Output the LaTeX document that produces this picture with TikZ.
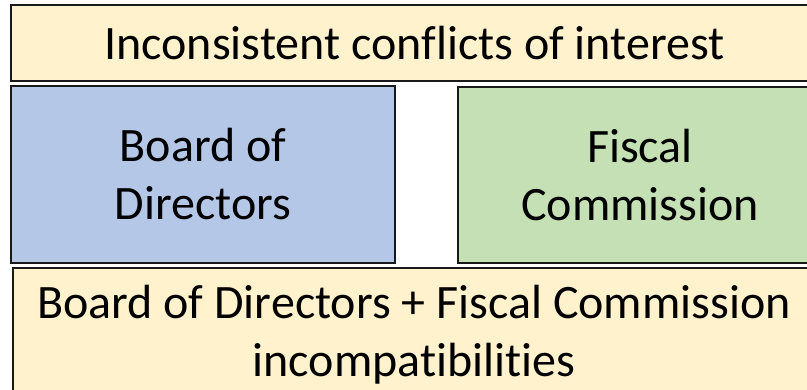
\documentclass[tikz,border=0pt]{standalone}
\usepackage{fontspec}
\setmainfont[Ligatures=NoCommon]{Carlito}
\usetikzlibrary{positioning}

\begin{document}
\begin{tikzpicture}[x=1pt,y=-1pt,line join=miter]
  % Styles
  \tikzset{
    panel/.style={draw=black!90, line width=2pt, inner sep=0pt, align=center,
      font=\fontsize{48}{58}\selectfont},
  }

  % Colors
  \definecolor{creamfill}{HTML}{FFF2CC}
  \definecolor{bluefill}{HTML}{B4C7E7}
  \definecolor{greenfill}{HTML}{C5E0B4}

  % Page frame
  \useasboundingbox (0,0) rectangle (807,389);
  \clip (0,0) rectangle (807,389);

  % Top band
  \node[panel, fill=creamfill, minimum width=807pt, minimum height=76pt]
    (conflicts) at (414.5,43) {Inconsistent conflicts of interest};

  % Two bodies
  \node[panel, fill=bluefill, minimum width=384pt, minimum height=177pt]
    (board) at (203,174.5) {Board of\\Directors};
  \node[panel, fill=greenfill, minimum width=364pt, minimum height=176pt]
    (fiscal) at (640,175) {Fiscal\\Commission};

  % Bottom band
  \node[panel, fill=creamfill, minimum width=802pt, minimum height=134pt,
    anchor=north] (incompat) at (414,267)
    {Board of Directors + Fiscal Commission\\incompatibilities};
\end{tikzpicture}
\end{document}
